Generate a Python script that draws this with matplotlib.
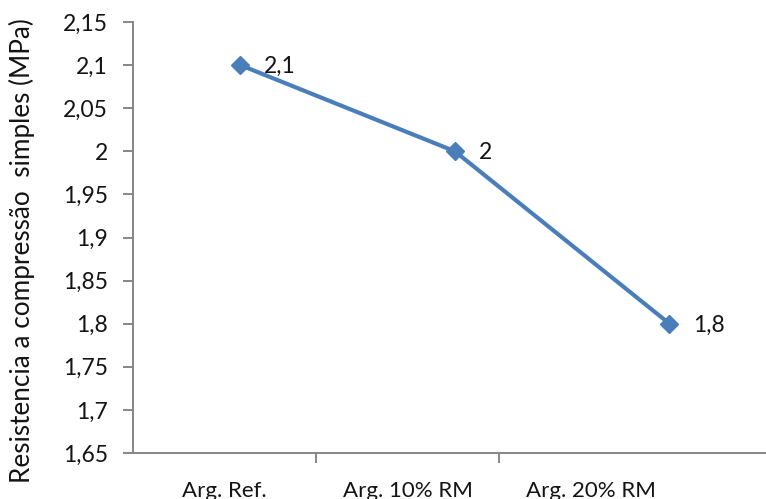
import matplotlib
matplotlib.use("Agg")
import matplotlib.pyplot as plt
from matplotlib.ticker import FixedLocator, FuncFormatter

categories = ["Arg. Ref.", "Arg. 10% RM", "Arg. 20% RM"]
resistance = [2.1, 2.0, 1.8]
value_labels = ["2,1", "2", "1,8"]
y_ticks = [1.65, 1.70, 1.75, 1.80, 1.85, 1.90, 1.95, 2.00, 2.05, 2.10, 2.15]

plt.rcParams["font.family"] = ["Lato", "DejaVu Sans"]

axis_gray = "#868686"
line_blue = "#4A7EBB"
text_col = "#141414"

fig = plt.figure(figsize=(7.66, 4.99), dpi=100)
ax = fig.add_axes([133 / 766, 1 - 453 / 499, 1 - 133 / 766, (453 - 22) / 499])

# category axis
ax.set_xlim(-0.5, 2.959)
ax.set_ylim(1.65, 2.15)
ax.set_xticks(range(len(categories)))
ax.set_xticklabels(categories, fontsize=16, color=text_col)
ax.tick_params(axis="x", which="major", length=0, pad=20)
ax.xaxis.set_minor_locator(FixedLocator([0.5, 1.5]))
ax.tick_params(axis="x", which="minor", length=7, width=1.4, color=axis_gray, direction="out")

ax.set_yticks(y_ticks)
ax.yaxis.set_major_formatter(FuncFormatter(lambda v, p: f"{v:g}".replace(".", ",")))
ax.tick_params(axis="y", length=7, width=1.4, color=axis_gray, direction="out",
               labelsize=16.5, labelcolor=text_col, pad=11)

for side in ("top", "right"):
    ax.spines[side].set_visible(False)
for side in ("left", "bottom"):
    ax.spines[side].set_color(axis_gray)
    ax.spines[side].set_linewidth(1.4)

ax.set_ylabel("Resistencia a compressão  simples (MPa)", fontsize=18.8, color=text_col, labelpad=12)
ax.yaxis.set_label_coords(-0.155, 0.47)

# series drawn on its own horizontal scale
ln = ax.twiny()
ln.set_xlim(-0.5, 2.45)
ln.set_ylim(1.65, 2.15)
ln.axis("off")
xs = list(range(len(resistance)))
ln.plot(xs, resistance, color=line_blue, lw=3, marker="D", markersize=9.5,
        markerfacecolor=line_blue, markeredgecolor=line_blue, solid_capstyle="round")
for x, y, t in zip(xs, resistance, value_labels):
    ln.annotate(t, (x, y), xytext=(17, -1), textcoords="offset points",
                va="center", ha="left", fontsize=16.5, color=text_col)

fig.savefig("out.png", dpi=100)
